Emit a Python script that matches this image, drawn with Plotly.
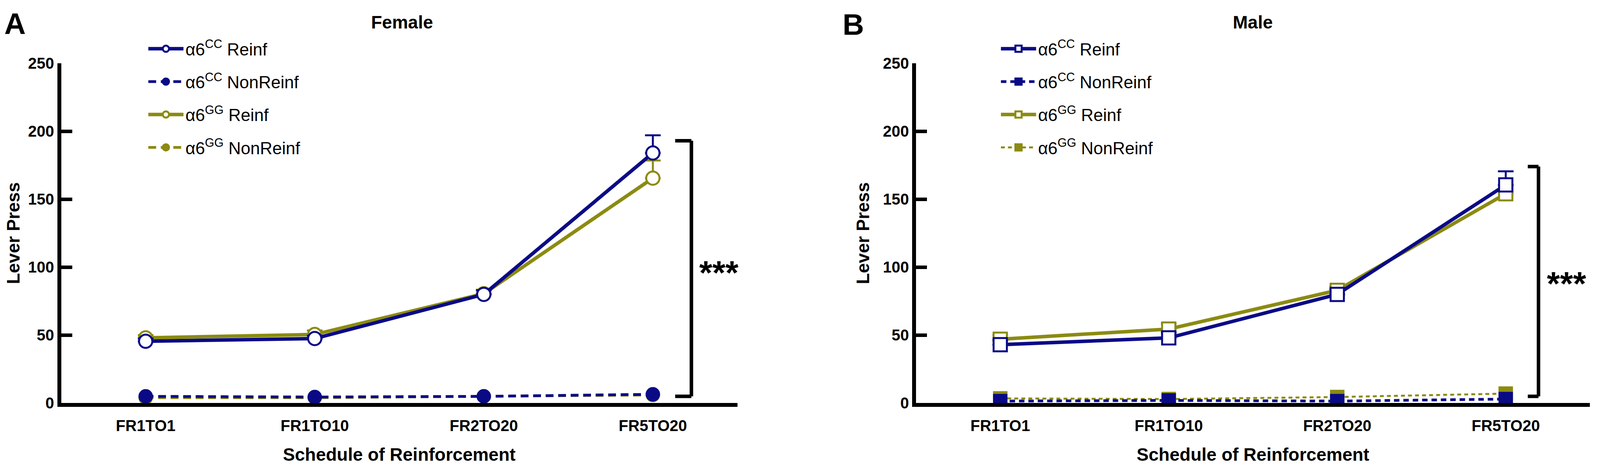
import plotly.graph_objects as go

categories = ["FR1TO1", "FR1TO10", "FR2TO20", "FR5TO20"]
y_ticks = [0, 50, 100, 150, 200, 250]

# Female
f_cc_reinf = [45.5, 47.5, 80, 184]
f_cc_reinf_err = [2, 2, 3, 13]
f_cc_non = [5, 4.5, 5, 6.5]
f_gg_reinf = [48, 50.5, 80.5, 165.5]
f_gg_reinf_err = [2, 3, 3, 13]
f_gg_non = [4, 4, 5, 6]

# Male
m_cc_reinf = [43, 48, 80, 160.5]
m_cc_reinf_err = [3, 4, 4, 10]
m_cc_non = [1.5, 2, 1.5, 3]
m_gg_reinf = [47, 54.5, 83, 154]
m_gg_reinf_err = [3, 4, 3, 6]
m_gg_non = [3.5, 3, 4.5, 7]

BLUE = "#0a0a86"
OLIVE = "#8b8b12"
FONT = "Liberation Sans"

# page geometry: viewport 4096x1196, body margin 8px
VW, VH, M = 4096, 1196, 8
W, H = VW - 2 * M, VH - M
REF_W, REF_H = 4318, 1196


def fx(x_ref):
    return (x_ref / REF_W * VW - M) / W


def fy(y_ref):
    return 1 - (y_ref / REF_H * VH - M) / H


fig = go.Figure()


def add(x_ax, y_ax, leg, y, name, color, symbol, filled, dash, lw, rank, err=None, size=34):
    kw = {}
    if err is not None:
        kw["error_y"] = dict(type="data", symmetric=False, array=err,
                             arrayminus=[0] * len(err), color=color,
                             thickness=5, width=20)
    fig.add_trace(go.Scatter(
        x=categories, y=y, name=name, mode="lines+markers",
        xaxis=x_ax, yaxis=y_ax, legend=leg, legendrank=rank,
        legendgroup=leg + str(rank),
        line=dict(color=color, width=lw, dash=dash),
        marker=dict(symbol=symbol, size=size,
                    color=color if filled else "white",
                    line=dict(color=color, width=5)),
        **kw))


lab = {
    "ccr": "α6<sup>CC</sup> Reinf",
    "ccn": "α6<sup>CC</sup> NonReinf",
    "ggr": "α6<sup>GG</sup> Reinf",
    "ggn": "α6<sup>GG</sup> NonReinf",
}

# Female (GG drawn first so CC is on top)
add("x", "y", "legend", f_gg_non, lab["ggn"], OLIVE, "circle", True, "20px,12px", 7, 4, size=32)
add("x", "y", "legend", f_gg_reinf, lab["ggr"], OLIVE, "circle", False, "solid", 9, 3, f_gg_reinf_err)
add("x", "y", "legend", f_cc_non, lab["ccn"], BLUE, "circle", True, "20px,12px", 7, 2, size=32)
add("x", "y", "legend", f_cc_reinf, lab["ccr"], BLUE, "circle", False, "solid", 9, 1, f_cc_reinf_err)

# Male
add("x2", "y2", "legend2", m_gg_non, lab["ggn"], OLIVE, "square", True, "10px,8px", 5, 4, size=32)
add("x2", "y2", "legend2", m_gg_reinf, lab["ggr"], OLIVE, "square", False, "solid", 9, 3, m_gg_reinf_err)
add("x2", "y2", "legend2", m_cc_non, lab["ccn"], BLUE, "square", True, "14px,10px", 7, 2, size=32)
add("x2", "y2", "legend2", m_cc_reinf, lab["ccr"], BLUE, "square", False, "solid", 9, 1, m_cc_reinf_err)

axis_common_x = dict(
    type="category", range=[-0.5, 3.5], showline=True, linecolor="black",
    linewidth=10, ticks="", showgrid=False, zeroline=False, ticklabelstandoff=14,
    tickfont=dict(family=FONT, size=40, color="black", weight="bold"),
    title=dict(text="Schedule of Reinforcement", standoff=40,
               font=dict(family=FONT, size=46, color="black", weight="bold")),
)
axis_common_y = dict(
    range=[0, 250], tickvals=y_ticks, showline=True, linecolor="black",
    linewidth=10, ticks="inside", ticklen=28, tickwidth=9, tickcolor="black",
    showgrid=False, zeroline=False,
    tickfont=dict(family=FONT, size=40, color="black", weight="bold"),
    title=dict(text="Lever Press", standoff=24,
               font=dict(family=FONT, size=46, color="black", weight="bold")),
)

legend_common = dict(
    font=dict(family=FONT, size=44, color="black"),
    bgcolor="rgba(0,0,0,0)", yanchor="top", xanchor="left",
    tracegroupgap=24, traceorder="grouped", itemsizing="trace", itemwidth=90,
)

y_dom = [fy(1049), fy(145)]

fig.update_layout(
    width=W, height=H,
    margin=dict(l=0, r=0, t=0, b=0),
    paper_bgcolor="white", plot_bgcolor="white",
    showlegend=True,
    xaxis=dict(domain=[fx(165), fx(1990)], anchor="y", **axis_common_x),
    yaxis=dict(domain=y_dom, anchor="x", **axis_common_y),
    xaxis2=dict(domain=[fx(2472), fx(4291)], anchor="y2", **axis_common_x),
    yaxis2=dict(domain=y_dom, anchor="x2", **axis_common_y),
    legend=dict(x=fx(395), y=fy(70), **legend_common),
    legend2=dict(x=fx(2696), y=fy(70), **legend_common),
)

# significance brackets
for xr, yr, xv, xl, ytop in [("x domain", "y", 0.932, 0.908, 193),
                              ("x2 domain", "y2", 0.9236, 0.9077, 174)]:
    fig.add_shape(type="line", xref=xr, yref=yr, x0=xv, x1=xv, y0=5, y1=ytop,
                  line=dict(color="black", width=9))
    fig.add_shape(type="line", xref=xr, yref=yr, x0=xl, x1=xv, y0=ytop, y1=ytop,
                  line=dict(color="black", width=9))
    fig.add_shape(type="line", xref=xr, yref=yr, x0=xl, x1=xv, y0=5, y1=5,
                  line=dict(color="black", width=9))

star_font = dict(family=FONT, size=86, color="black", weight="bold")
fig.add_annotation(xref="x domain", yref="y", x=0.9726, y=96, text="***",
                   xanchor="center", yanchor="middle", showarrow=False, font=star_font)
fig.add_annotation(xref="x2 domain", yref="y2", x=0.9654, y=88, text="***",
                   xanchor="center", yanchor="middle", showarrow=False, font=star_font)

# panel titles and letters
title_font = dict(family=FONT, size=46, color="black", weight="bold")
letter_font = dict(family=FONT, size=76, color="black", weight="bold")
for xr_, yr_, txt, f in [(1085, 36, "Female", title_font), (3381, 36, "Male", title_font),
                         (41, 40, "A", letter_font), (2303, 42, "B", letter_font)]:
    fig.add_annotation(xref="paper", yref="paper", x=fx(xr_), y=fy(yr_), text=txt,
                       xanchor="center", yanchor="middle", showarrow=False, font=f)

fig.write_html("out.html")
